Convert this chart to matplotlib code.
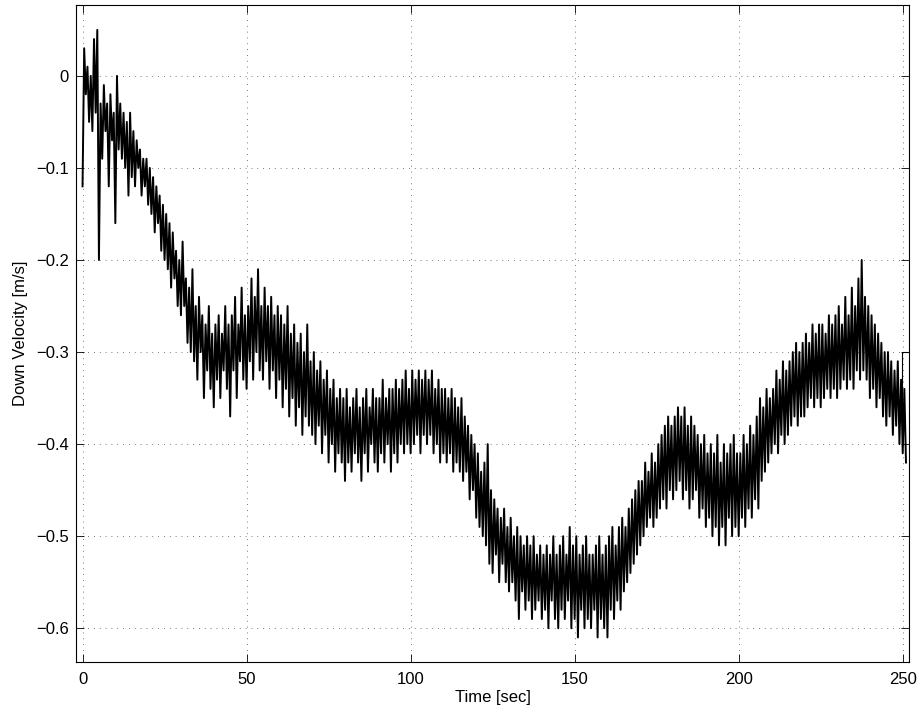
import matplotlib
matplotlib.use('Agg')
import matplotlib.pyplot as plt
import numpy as np

dt = 0.5
velocity = [
    -0.12, 0.03, -0.02, 0.01, -0.05, 0.00, -0.06, 0.04, -0.04, 0.05,
    -0.20, -0.03, -0.09, -0.01, -0.06, -0.03, -0.12, -0.02, -0.07, -0.04,
    -0.16, 0.00, -0.08, -0.03, -0.09, -0.04, -0.10, -0.05, -0.13, -0.04,
    -0.11, -0.06, -0.12, -0.07, -0.10, -0.08, -0.13, -0.09, -0.12, -0.09,
    -0.14, -0.10, -0.15, -0.11, -0.17, -0.12, -0.16, -0.13, -0.19, -0.14,
    -0.20, -0.15, -0.21, -0.16, -0.23, -0.17, -0.22, -0.19, -0.25, -0.20,
    -0.26, -0.18, -0.25, -0.22, -0.29, -0.23, -0.30, -0.21, -0.31, -0.25,
    -0.33, -0.24, -0.30, -0.26, -0.35, -0.27, -0.32, -0.25, -0.34, -0.28,
    -0.36, -0.27, -0.33, -0.26, -0.35, -0.28, -0.32, -0.25, -0.34, -0.27,
    -0.37, -0.26, -0.32, -0.24, -0.35, -0.27, -0.31, -0.23, -0.33, -0.26,
    -0.34, -0.25, -0.31, -0.22, -0.33, -0.24, -0.30, -0.21, -0.32, -0.25,
    -0.33, -0.23, -0.31, -0.25, -0.34, -0.24, -0.32, -0.26, -0.35, -0.25,
    -0.33, -0.26, -0.36, -0.27, -0.34, -0.25, -0.37, -0.28, -0.35, -0.27,
    -0.38, -0.29, -0.36, -0.28, -0.39, -0.30, -0.37, -0.27, -0.38, -0.31,
    -0.39, -0.30, -0.40, -0.32, -0.38, -0.31, -0.41, -0.33, -0.39, -0.32,
    -0.42, -0.34, -0.40, -0.33, -0.43, -0.35, -0.41, -0.34, -0.42, -0.35,
    -0.44, -0.34, -0.42, -0.36, -0.43, -0.35, -0.41, -0.34, -0.42, -0.36,
    -0.44, -0.35, -0.41, -0.34, -0.43, -0.36, -0.40, -0.34, -0.42, -0.35,
    -0.43, -0.35, -0.41, -0.33, -0.42, -0.35, -0.40, -0.34, -0.43, -0.34,
    -0.41, -0.33, -0.42, -0.34, -0.40, -0.33, -0.41, -0.32, -0.40, -0.34,
    -0.41, -0.32, -0.40, -0.33, -0.39, -0.32, -0.41, -0.33, -0.39, -0.32,
    -0.40, -0.33, -0.39, -0.32, -0.41, -0.34, -0.40, -0.33, -0.42, -0.34,
    -0.41, -0.34, -0.42, -0.35, -0.41, -0.34, -0.43, -0.35, -0.42, -0.36,
    -0.43, -0.35, -0.44, -0.37, -0.43, -0.38, -0.46, -0.39, -0.45, -0.40,
    -0.48, -0.41, -0.49, -0.43, -0.50, -0.42, -0.51, -0.40, -0.53, -0.45,
    -0.54, -0.46, -0.52, -0.47, -0.55, -0.48, -0.53, -0.47, -0.55, -0.49,
    -0.56, -0.48, -0.55, -0.50, -0.57, -0.49, -0.59, -0.50, -0.56, -0.51,
    -0.58, -0.50, -0.57, -0.51, -0.59, -0.50, -0.58, -0.52, -0.57, -0.51,
    -0.59, -0.52, -0.58, -0.51, -0.60, -0.52, -0.57, -0.50, -0.59, -0.52,
    -0.60, -0.51, -0.58, -0.50, -0.59, -0.52, -0.57, -0.49, -0.60, -0.51,
    -0.59, -0.50, -0.61, -0.52, -0.58, -0.51, -0.60, -0.50, -0.59, -0.52,
    -0.60, -0.52, -0.58, -0.51, -0.61, -0.50, -0.59, -0.52, -0.60, -0.51,
    -0.61, -0.50, -0.58, -0.49, -0.59, -0.51, -0.57, -0.49, -0.58, -0.48,
    -0.56, -0.49, -0.55, -0.47, -0.54, -0.46, -0.53, -0.45, -0.52, -0.44,
    -0.51, -0.44, -0.50, -0.42, -0.49, -0.43, -0.48, -0.41, -0.49, -0.42,
    -0.48, -0.40, -0.47, -0.39, -0.46, -0.38, -0.47, -0.37, -0.45, -0.38,
    -0.46, -0.37, -0.45, -0.36, -0.44, -0.37, -0.46, -0.36, -0.45, -0.38,
    -0.47, -0.37, -0.46, -0.38, -0.45, -0.39, -0.48, -0.40, -0.47, -0.39,
    -0.49, -0.41, -0.48, -0.40, -0.50, -0.41, -0.49, -0.39, -0.51, -0.42,
    -0.49, -0.40, -0.51, -0.41, -0.48, -0.40, -0.50, -0.39, -0.49, -0.41,
    -0.50, -0.41, -0.48, -0.39, -0.49, -0.40, -0.47, -0.38, -0.48, -0.39,
    -0.46, -0.37, -0.47, -0.35, -0.44, -0.36, -0.43, -0.34, -0.42, -0.35,
    -0.41, -0.34, -0.40, -0.32, -0.41, -0.33, -0.39, -0.31, -0.40, -0.32,
    -0.39, -0.31, -0.38, -0.30, -0.37, -0.29, -0.38, -0.30, -0.37, -0.29,
    -0.37, -0.28, -0.36, -0.29, -0.35, -0.27, -0.36, -0.28, -0.35, -0.27,
    -0.36, -0.27, -0.35, -0.28, -0.34, -0.26, -0.35, -0.27, -0.34, -0.26,
    -0.35, -0.25, -0.34, -0.27, -0.33, -0.24, -0.34, -0.26, -0.33, -0.23,
    -0.34, -0.25, -0.32, -0.22, -0.33, -0.20, -0.32, -0.24, -0.33, -0.25,
    -0.35, -0.26, -0.34, -0.27, -0.36, -0.28, -0.35, -0.29, -0.37, -0.30,
    -0.38, -0.30, -0.37, -0.31, -0.39, -0.32, -0.38, -0.31, -0.40, -0.33,
    -0.41, -0.34, -0.42,
]
# short step at the very end of the record
tail_time = [249.7, 249.7, 252.0]
tail_velocity = [-0.375, -0.30, -0.30]

x_ticks = [0, 50, 100, 150, 200, 250]
y_ticks = [-0.6, -0.5, -0.4, -0.3, -0.2, -0.1, 0.0]
y_tick_labels = ['\u22120.6', '\u22120.5', '\u22120.4', '\u22120.3', '\u22120.2', '\u22120.1', '0']

plt.rcParams['font.family'] = ['Liberation Sans', 'DejaVu Sans']
plt.rcParams['font.size'] = 12

time = np.arange(len(velocity)) * dt

fig = plt.figure(figsize=(9.22, 7.13), dpi=100)
ax = fig.add_axes([0.0824, 0.0711, 0.9038, 0.9219])
ax.plot(time, velocity, 'k-', lw=1.4)
ax.plot(tail_time, tail_velocity, 'k-', lw=0.8)

ax.set_xlim(-2, 252)
ax.set_ylim(-0.637, 0.077)
ax.set_xticks(x_ticks)
ax.set_yticks(y_ticks)
ax.set_yticklabels(y_tick_labels)
ax.set_xlabel('Time [sec]', labelpad=2)
ax.set_ylabel('Down Velocity [m/s]', labelpad=6)

ax.grid(True, color='0.3', linestyle=(0, (1, 6)), linewidth=0.6)
ax.tick_params(direction='in', length=6, width=0.6, top=True, right=True)
ax.tick_params(axis='x', pad=7)
ax.tick_params(axis='y', pad=5)
for s in ax.spines.values():
    s.set_linewidth(0.8)

fig.savefig('out.png', dpi=100)
